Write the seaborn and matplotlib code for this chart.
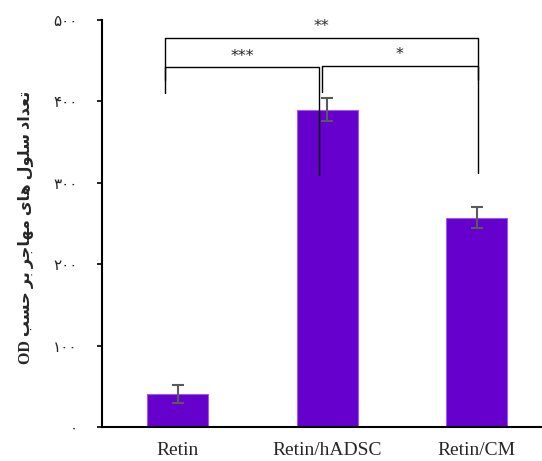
import matplotlib
matplotlib.use("Agg")
import matplotlib.pyplot as plt
import seaborn as sns

# Data
groups = ["Retin", "Retin/hADSC", "Retin/CM"]
means = [40, 390, 257]
errors = [11, 14, 13]
y_ticks = [0, 100, 200, 300, 400, 500]

# significance brackets: (left x, right x, bar y, left leg end, right leg end, label)
brackets = [
    (-0.084, 0.946, 442, 410, 310, "***"),
    (0.967, 2.008, 444, 411, 312, "*"),
    (-0.084, 2.008, 478, 426, 426, "**"),
]

ylabel_fa = "تعداد سلول های مهاجر بر حسب"

# minimal Persian shaping (matplotlib has no complex text layout)
FORMS = {
    "ا": ("\ufe8d", "\ufe8e", None, None),
    "ب": ("\ufe8f", "\ufe90", "\ufe91", "\ufe92"),
    "ت": ("\ufe95", "\ufe96", "\ufe97", "\ufe98"),
    "ج": ("\ufe9d", "\ufe9e", "\ufe9f", "\ufea0"),
    "ح": ("\ufea1", "\ufea2", "\ufea3", "\ufea4"),
    "د": ("\ufea9", "\ufeaa", None, None),
    "ر": ("\ufead", "\ufeae", None, None),
    "س": ("\ufeb1", "\ufeb2", "\ufeb3", "\ufeb4"),
    "ع": ("\ufec9", "\ufeca", "\ufecb", "\ufecc"),
    "ل": ("\ufedd", "\ufede", "\ufedf", "\ufee0"),
    "م": ("\ufee1", "\ufee2", "\ufee3", "\ufee4"),
    "ه": ("\ufee9", "\ufeea", "\ufeeb", "\ufeec"),
    "و": ("\ufeed", "\ufeee", None, None),
    "ی": ("\ufbfc", "\ufbfd", "\ufbfe", "\ufbff"),
}


def shape(text):
    out = []
    for i, ch in enumerate(text):
        if ch not in FORMS:
            out.append(ch)
            continue
        prev = text[i - 1] if i > 0 else ""
        nxt = text[i + 1] if i + 1 < len(text) else ""
        join_prev = prev in FORMS and FORMS[prev][2] is not None
        join_next = FORMS[ch][2] is not None and nxt in FORMS
        iso, fin, ini, med = FORMS[ch]
        if join_prev and join_next:
            out.append(med)
        elif join_prev:
            out.append(fin)
        elif join_next:
            out.append(ini)
        else:
            out.append(iso)
    return "".join(out)[::-1]


def to_fa_digits(n):
    return str(n).translate(str.maketrans("0123456789", "۰۱۲۳۴۵۶۷۸۹"))


sns.set_style("white")
plt.rcParams["font.family"] = ["Liberation Serif", "DejaVu Sans"]

fig = plt.figure(figsize=(5.42, 4.61), dpi=100)
ax = fig.add_axes([0.1882, 0.0738, 0.8118, 0.8829])

sns.barplot(x=groups, y=means, color="#6600CC", width=0.408, errorbar=None,
            saturation=1, edgecolor="#9a5cf0", linewidth=0.8, ax=ax)
ax.errorbar(x=range(len(groups)), y=means, yerr=errors, fmt="none",
            ecolor="#5a5a5a", elinewidth=1.5, capsize=4.3, capthick=1.5)

for x1, x2, yb, yl, yr, label in brackets:
    ax.plot([x1, x1, x2, x2], [yl, yb, yb, yr], color="black", lw=1.0,
            clip_on=False)
    ax.text((x1 + x2) / 2, yb + 8, label, ha="center", va="baseline",
            fontsize=11.5, family="DejaVu Sans")

ax.set_xlim(-0.505, 2.438)
ax.set_ylim(0, 500)
ax.set_yticks(y_ticks)
ax.set_yticklabels([to_fa_digits(t) for t in y_ticks], fontsize=11,
                   family="DejaVu Sans")
ax.tick_params(axis="y", direction="out", length=3.6, width=1.2, pad=14,
               left=True, color="black")
ax.tick_params(axis="x", length=0, pad=11, labelsize=14)

for side in ["top", "right"]:
    ax.spines[side].set_visible(False)
for side in ["left", "bottom"]:
    ax.spines[side].set_color("black")
    ax.spines[side].set_linewidth(1.5)

ax.set_xlabel("")
ax.set_ylabel("OD " + shape(ylabel_fa), fontsize=11.5, fontweight="bold",
              family=["Liberation Serif", "DejaVu Sans"])
ax.yaxis.set_label_coords(-0.155, 0.49)

fig.savefig("out.png", dpi=100)
